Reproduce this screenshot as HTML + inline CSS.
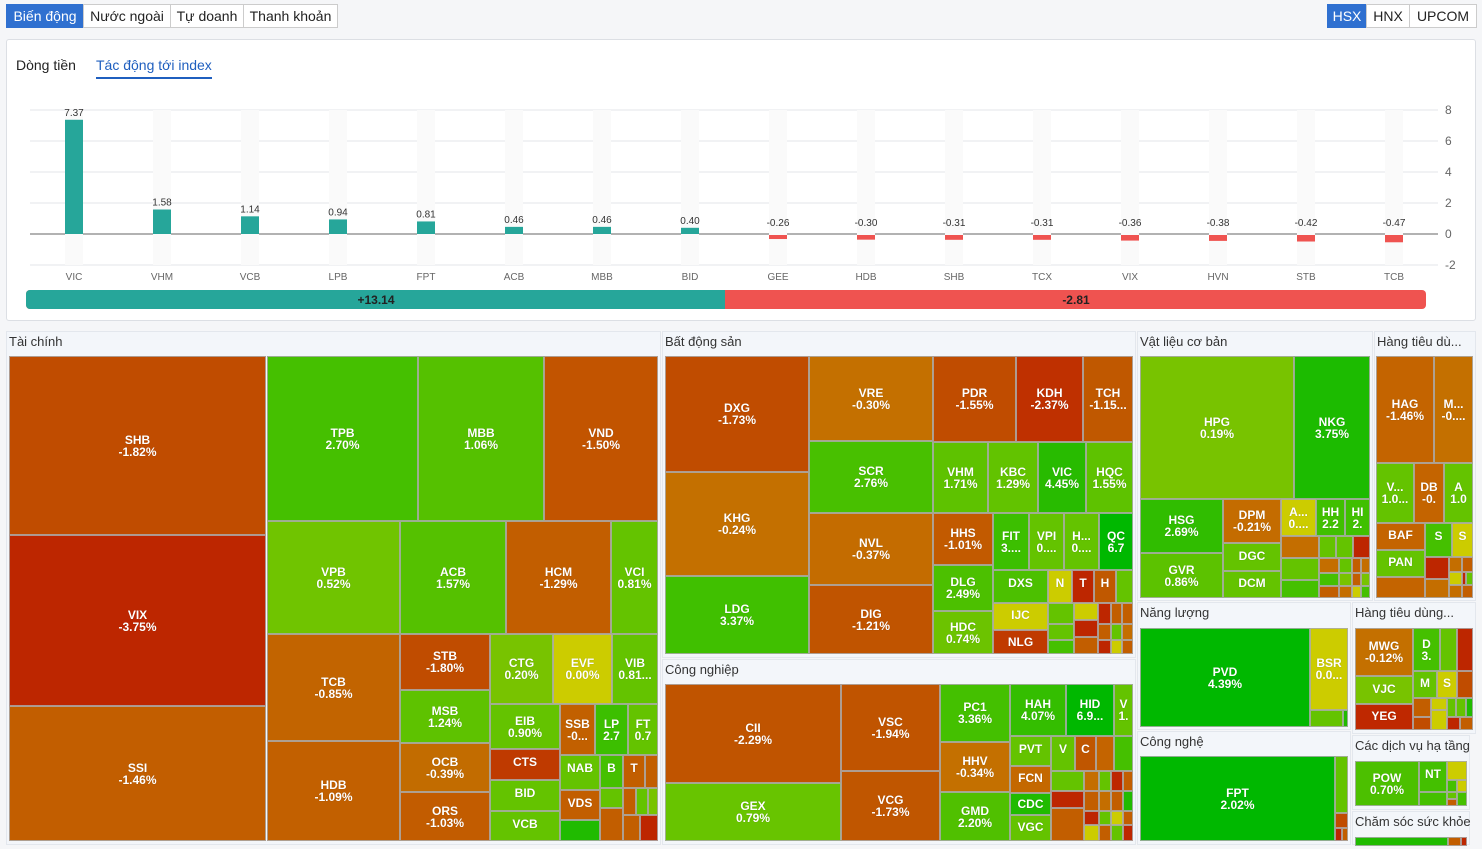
<!DOCTYPE html>
<html><head><meta charset="utf-8"><style>
*{box-sizing:border-box;margin:0;padding:0}
body{width:1482px;height:849px;background:#f5f6f8;font-family:"Liberation Sans","DejaVu Sans",sans-serif;position:relative;overflow:hidden}
.btn{position:absolute;top:4px;height:24px;border:1px solid #ccc;background:#fff;font-size:14px;line-height:22px;text-align:center;color:#222}
.btn.on{background:#2f70d0;color:#fff;border-color:#2f70d0}
#card{position:absolute;left:6px;top:39px;width:1470px;height:282px;background:#fff;border:1px solid #dcdfe4;border-radius:3px}
.tab{position:absolute;top:57px;font-size:14px;color:#222}
.panel{position:absolute;background:#f3f6fa;border:1px solid #e3e7ed}
.ph{position:absolute;font-size:13px;color:#333;white-space:nowrap}
.t{position:absolute;border:1px solid rgba(170,170,170,.85);color:#fff;font-size:12px;font-weight:bold;text-align:center;display:flex;flex-direction:column;justify-content:center;line-height:12px;overflow:hidden;white-space:nowrap;text-shadow:0 0 1px rgba(0,0,0,.25)}
</style></head><body>
<div class="btn on" style="left:6px;width:78px">Biến động</div>
<div class="btn" style="left:83px;width:88px">Nước ngoài</div>
<div class="btn" style="left:170px;width:74px">Tự doanh</div>
<div class="btn" style="left:243px;width:95px">Thanh khoản</div>
<div class="btn on" style="left:1327px;width:40px">HSX</div>
<div class="btn" style="left:1366px;width:44px">HNX</div>
<div class="btn" style="left:1409px;width:68px">UPCOM</div>
<div id="card"></div>
<div class="tab" style="left:16px">Dòng tiền</div>
<div class="tab" style="left:96px;color:#1f5fbf">Tác động tới index</div>
<div style="position:absolute;left:96px;top:77px;width:116px;height:2px;background:#1f5fbf"></div>
<svg id="chart" width="1482" height="320" style="position:absolute;left:0;top:0"></svg>
<div id="tm"></div>
<script>
const tickers=["VIC","VHM","VCB","LPB","FPT","ACB","MBB","BID","GEE","HDB","SHB","TCX","VIX","HVN","STB","TCB"];
const values=[7.37,1.58,1.14,0.94,0.81,0.46,0.46,0.40,-0.26,-0.30,-0.31,-0.31,-0.36,-0.38,-0.42,-0.47];
const yTicks=[8,6,4,2,0,-2];
const totalUp=13.14;
const totalDown=-2.81;
const NS="http://www.w3.org/2000/svg";
const svg=document.getElementById('chart');
const yScale=v=>234-v*15.5;
const xScale=i=>74+i*88;
function mk(tag,attrs){const e=document.createElementNS(NS,tag);for(const k in attrs)e.setAttribute(k,attrs[k]);svg.appendChild(e);return e;}
yTicks.forEach(t=>{
  const l=mk('line',{x1:30,x2:1438,y1:yScale(t),y2:yScale(t),stroke:t===0?'#666':'#e3e5ea','stroke-width':1});
  
  
  const tx=mk('text',{x:1445,y:yScale(t)+4,'font-size':12,fill:'#666'});
  tx.textContent=t;
  
  
});
tickers.forEach((tk,i)=>{
  const cx=xScale(i),v=values[i];
  const bg=mk('rect',{x:cx-9,y:yScale(8),width:18,height:yScale(-2)-yScale(8),fill:'#fafafa'});
  
  
  const y0=yScale(0),y1=yScale(v);
  const b=mk('rect',{x:cx-9,y:Math.min(y0,y1)+(v>=0?0:1),width:18,height:Math.abs(y1-y0),fill:v>=0?'#26a69a':'#ef5350'});
  
  
  const lbl=mk('text',{x:cx,y:(v>=0?y1-4:y0-8),'font-size':10,fill:'#333','text-anchor':'middle'});
  lbl.textContent=v.toFixed(2);
  
  
  const xl=mk('text',{x:cx,y:280,'font-size':10,fill:'#666','text-anchor':'middle'});
  xl.textContent=tk;
  
  
});
const sumX0=26,sumX1=1426,split=sumX0+(sumX1-sumX0)*totalUp/(totalUp-totalDown*0.0+ (totalUp/ (725-26) * (1426-725)));
const splitX=725;
const g=mk('rect',{x:sumX0,y:290,width:sumX1-sumX0,height:19,rx:4,fill:'#ef5350'});


const gu=mk('path',{d:`M${splitX} 290 H30 a4 4 0 0 0 -4 4 V305 a4 4 0 0 0 4 4 H${splitX}Z`,fill:'#26a69a'});


const tu=mk('text',{x:376,y:304,'font-size':12,'font-weight':'bold',fill:'#222','text-anchor':'middle'});
tu.textContent='+'+totalUp.toFixed(2);


const td=mk('text',{x:1076,y:304,'font-size':12,'font-weight':'bold',fill:'#222','text-anchor':'middle'});
td.textContent=totalDown.toFixed(2);



// treemap
const tm=document.getElementById('tm');
const panels=[[6,331,661,845,'Tài chính'],[662,331,1136,658,'Bất động sản'],[662,659,1136,845,'Công nghiệp'],[1137,331,1373,601,'Vật liệu cơ bản'],[1374,331,1476,601,'Hàng tiêu dù...'],[1137,602,1351,730,'Năng lượng'],[1137,731,1351,845,'Công nghệ'],[1352,602,1476,734,'Hàng tiêu dùng...'],[1352,735,1470,810,'Các dịch vụ hạ tầng'],[1352,811,1470,845,'Chăm sóc sức khỏe']];
panels.forEach(p=>{
  const d=document.createElement('div');d.className='panel';
  d.style.cssText=`left:${p[0]}px;top:${p[1]}px;width:${p[2]-p[0]}px;height:${p[3]-p[1]}px`;
  
  
  tm.appendChild(d);
  const h=document.createElement('div');h.className='ph';h.textContent=p[4];
  h.style.left=(p[0]+3)+'px';h.style.top=(p[1]+3)+'px';
  
  
  tm.appendChild(h);
});
const R='#bd2600',O1='#c04c00',O2='#c25e00',O3='#c46e00',Y='#cccc00',G1='#78c300',G2='#64c300',G3='#45c000',G4='#20bb00',G5='#00b800';
const tiles=[
[9,356,266,535,O1,'SHB','-1.82%'],[9,535,266,706,R,'VIX','-3.75%'],[9,706,266,841,O2,'SSI','-1.46%'],
[267,356,418,521,G3,'TPB','2.70%'],[418,356,544,521,'#55c100','MBB','1.06%'],[544,356,658,521,'#c25400','VND','-1.50%'],
[267,521,400,634,'#70c400','VPB','0.52%'],[400,521,506,634,'#55c100','ACB','1.57%'],[506,521,611,634,O2,'HCM','-1.29%'],[611,521,658,634,G2,'VCI','0.81%'],
[267,634,400,741,'#c26400','TCB','-0.85%'],[267,741,400,841,'#c26000','HDB','-1.09%'],
[400,634,490,690,O1,'STB','-1.80%'],[400,690,490,743,'#5ec200','MSB','1.24%'],[400,743,490,792,'#c26c00','OCB','-0.39%'],[400,792,490,841,'#c25c00','ORS','-1.03%'],
[490,634,553,704,G1,'CTG','0.20%'],[553,634,612,704,Y,'EVF','0.00%'],[612,634,658,704,G2,'VIB','0.81...'],
[490,704,560,749,G2,'EIB','0.90%'],[560,704,595,755,'#c26000','SSB','-0...'],[595,704,628,755,'#3cbf00','LP','2.7'],[628,704,658,755,G2,'FT','0.7'],
[490,749,560,780,'#bf3a00','CTS',''],[490,780,560,811,G2,'BID',''],[490,811,560,841,G2,'VCB',''],
[560,755,600,790,G2,'NAB',''],[600,755,623,788,G3,'B',''],[623,755,645,788,O2,'T',''],[645,755,658,788,O2],
[560,790,600,820,O2,'VDS',''],[560,820,600,841,G4],[600,788,623,808,G2],[600,808,623,841,O2],
[623,788,636,815,O2],[636,788,648,815,G2],[648,788,658,815,G1],[623,815,640,841,O2],[640,815,658,841,R],
[665,356,809,472,O1,'DXG','-1.73%'],[665,472,809,576,'#c47000','KHG','-0.24%'],[665,576,809,654,'#40c000','LDG','3.37%'],
[809,356,933,441,'#c47000','VRE','-0.30%'],[809,441,933,513,'#48c000','SCR','2.76%'],[809,513,933,585,'#c46c00','NVL','-0.37%'],[809,585,933,654,'#c05400','DIG','-1.21%'],
[933,356,1016,442,O1,'PDR','-1.55%'],[1016,356,1083,442,'#bf3000','KDH','-2.37%'],[1083,356,1133,442,'#c05800','TCH','-1.15...'],
[933,442,988,513,'#5ec200','VHM','1.71%'],[988,442,1038,513,'#62c300','KBC','1.29%'],[1038,442,1086,513,'#28bb00','VIC','4.45%'],[1086,442,1133,513,'#5ec200','HQC','1.55%'],
[933,513,993,565,'#c25a00','HHS','-1.01%'],[933,565,993,611,'#4cc000','DLG','2.49%'],[933,611,993,654,'#6cc300','HDC','0.74%'],
[993,513,1029,570,'#3cbf00','FIT','3....'],[1029,513,1064,570,G2,'VPI','0....'],[1064,513,1099,570,G2,'H...','0....'],[1099,513,1133,570,G5,'QC','6.7'],
[993,570,1048,603,'#4cc000','DXS',''],[1048,570,1072,603,Y,'N',''],[1072,570,1094,603,R,'T',''],[1094,570,1116,603,'#c05800','H',''],[1116,570,1133,603,G2],
[993,603,1048,630,Y,'IJC',''],[993,630,1048,654,'#c03a00','NLG',''],
[1048,603,1074,624,G2],[1074,603,1098,620,Y],[1098,603,1111,624,R],[1111,603,1122,624,O2],[1122,603,1133,624,O2],
[1048,624,1074,640,G2],[1074,620,1098,637,R],[1098,624,1111,640,O2],[1111,624,1122,640,G2],[1122,624,1133,640,O3],
[1048,640,1074,654,G3],[1074,637,1098,654,O2],[1098,640,1111,654,R],[1111,640,1122,654,Y],[1122,640,1133,654,O2],
[665,684,841,783,'#c05400','CII','-2.29%'],[665,783,841,841,'#68c400','GEX','0.79%'],
[841,684,940,771,'#c05400','VSC','-1.94%'],[841,771,940,841,'#c05600','VCG','-1.73%'],
[940,684,1010,742,'#44c000','PC1','3.36%'],[940,742,1010,792,'#c47000','HHV','-0.34%'],[940,792,1010,841,'#50c000','GMD','2.20%'],
[1010,684,1066,736,'#34be00','HAH','4.07%'],[1066,684,1114,736,G5,'HID','6.9...'],[1114,684,1133,736,G2,'V','1.'],
[1010,736,1051,766,G2,'PVT',''],[1010,766,1051,793,'#c46800','FCN',''],[1010,793,1051,815,G4,'CDC',''],[1010,815,1051,841,G2,'VGC',''],
[1051,736,1075,771,G2,'V',''],[1075,736,1096,771,'#c05600','C',''],[1096,736,1114,771,'#c46400'],[1114,736,1133,771,G3],
[1051,771,1084,791,G2],[1084,771,1099,791,O3],[1099,771,1111,791,G2],[1111,771,1123,791,R],[1123,771,1133,791,O2],
[1051,791,1084,808,R],[1084,791,1099,811,O2],[1099,791,1111,811,O3],[1111,791,1123,811,O2],[1123,791,1133,811,G4],
[1051,808,1084,841,O2],[1084,811,1099,825,R],[1099,811,1111,825,G2],[1111,811,1123,825,Y],[1123,811,1133,825,O2],
[1084,825,1099,841,Y],[1099,825,1111,841,O2],[1111,825,1123,841,G2],[1123,825,1133,841,R],
[1140,356,1294,499,'#78c300','HPG','0.19%'],[1294,356,1370,499,'#1cbb00','NKG','3.75%'],
[1140,499,1223,553,'#30bd00','HSG','2.69%'],[1140,553,1223,598,'#5cc200','GVR','0.86%'],
[1223,499,1281,543,'#c46c00','DPM','-0.21%'],[1223,543,1281,571,G2,'DGC',''],[1223,571,1281,598,G2,'DCM',''],
[1281,499,1316,536,Y,'A...','0....'],[1316,499,1345,536,'#40c000','HH','2.2'],[1345,499,1370,536,'#40c000','HI','2.'],
[1281,536,1319,558,O3],[1319,536,1336,558,G2],[1336,536,1353,558,G2],[1353,536,1370,558,R],
[1281,558,1319,580,G2],[1319,558,1339,573,O3],[1339,558,1352,573,G2],[1352,558,1361,573,O2],[1361,558,1370,573,O3],
[1281,580,1319,598,G3],[1319,573,1339,586,G3],[1339,573,1352,586,G1],[1352,573,1361,586,O2],[1361,573,1370,586,G1],
[1319,586,1339,598,O2],[1339,586,1352,598,O3],[1352,586,1361,598,Y],[1361,586,1370,598,G3],
[1376,356,1434,463,'#c46400','HAG','-1.46%'],[1434,356,1473,463,'#c47000','M...','-0....'],
[1376,463,1414,523,G2,'V...','1.0...'],[1414,463,1444,523,'#c46400','DB','-0.'],[1444,463,1473,523,G2,'A','1.0'],
[1376,523,1425,550,'#c46400','BAF',''],[1376,550,1425,577,G2,'PAN',''],[1376,577,1425,598,'#c46400'],
[1425,523,1452,557,G3,'S',''],[1452,523,1473,557,Y,'S',''],
[1425,557,1449,579,R],[1449,557,1462,572,O3],[1462,557,1473,572,O2],
[1425,579,1449,598,O3],[1449,572,1462,585,Y],[1462,572,1466,585,R],[1466,572,1473,585,G2],[1449,585,1462,598,O3],[1462,585,1473,598,O2],
[1140,628,1310,727,G5,'PVD','4.39%'],[1310,628,1348,710,Y,'BSR','0.0...'],[1310,710,1343,727,G2],[1343,710,1348,727,G4],
[1140,756,1335,841,G5,'FPT','2.02%'],[1335,756,1348,813,G2],[1335,813,1348,828,O1],[1335,828,1342,841,R],[1342,828,1348,841,O2],
[1355,628,1413,676,'#c47000','MWG','-0.12%'],[1355,676,1413,704,G1,'VJC',''],[1355,704,1413,730,'#bf2800','YEG',''],
[1413,628,1440,671,G3,'D','3.'],[1440,628,1457,671,G2],[1457,628,1473,671,R],
[1413,671,1437,698,G2,'M',''],[1437,671,1457,698,Y,'S',''],[1457,671,1473,698,O1],
[1413,698,1431,717,O2],[1431,698,1447,710,Y],[1447,698,1456,717,G2],[1456,698,1466,717,G2],[1466,698,1473,717,G4],
[1413,717,1431,730,O1],[1431,710,1447,730,Y],[1447,717,1460,730,R],[1460,717,1473,730,O2],
[1355,761,1419,806,'#4cc000','POW','0.70%'],[1419,761,1447,792,'#44c000','NT',''],[1419,792,1447,806,G3],
[1447,761,1467,780,Y],[1447,780,1457,792,G3],[1457,780,1467,792,Y],[1447,792,1457,799,G2],[1457,792,1467,806,G3],[1447,799,1457,806,O2],
[1355,837,1448,846,G4],[1448,837,1461,846,O2],[1461,837,1467,846,R]
];
tiles.forEach(t=>{
  const d=document.createElement('div');d.className='t';
  const h=t[3]-t[1];
  d.style.cssText=`left:${t[0]}px;top:${t[1]}px;width:${t[2]-t[0]}px;height:${h}px;background:${t[4]}`;
  if(t[5]){
    if(!t[6]&&h>24){d.style.justifyContent='flex-start';d.style.paddingTop=Math.min(6,h/5)+'px';}
    d.innerHTML=t[5]+(t[6]?'<br>'+t[6]:'');
  }
  
  
  tm.appendChild(d);
});
</script>
</body></html>
